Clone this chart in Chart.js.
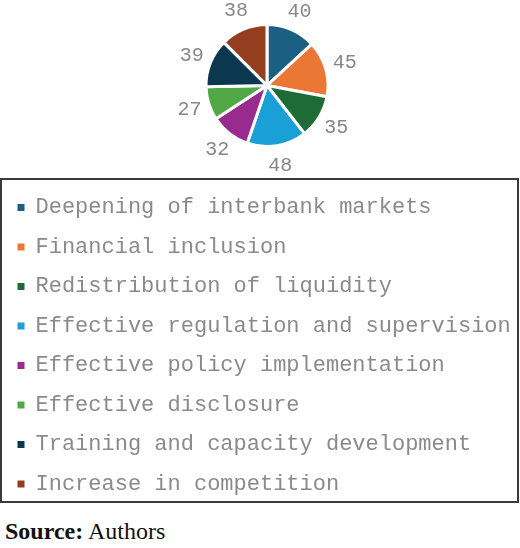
<!DOCTYPE html>
<html>
<head>
<meta charset="utf-8">
<script src="https://cdn.jsdelivr.net/npm/chart.js@4"></script>
<style>
html,body{margin:0;padding:0;background:#fff;}
#wrap{position:relative;width:520px;height:548px;overflow:hidden;}
#c{position:absolute;left:0;top:0;width:520px;height:505px;}
#src{position:absolute;left:5px;top:519px;font-family:"Liberation Serif","Times New Roman",serif;font-size:24px;line-height:24px;color:#111;white-space:nowrap;}
</style>
</head>
<body>
<div id="wrap">
  <canvas id="c" width="520" height="505"></canvas>
  <div id="src"><b>Source:</b> Authors</div>
</div>
<script>
const categories = [
  "Deepening of interbank markets",
  "Financial inclusion",
  "Redistribution of liquidity",
  "Effective regulation and supervision",
  "Effective policy implementation",
  "Effective disclosure",
  "Training and capacity development",
  "Increase in competition"
];
const values = [40, 45, 35, 48, 32, 27, 39, 38];
const colors = ["#1b5f83", "#ec7633", "#1e6b35", "#1b9fd7", "#9a2b8e", "#52a747", "#0c384f", "#933f1f"];

const shiftArea = {
  id: 'shiftArea',
  afterLayout(chart) {
    const ca = chart.chartArea;
    ca.left += 14;
    ca.width = ca.right - ca.left;
    ca.bottom -= 8;
    ca.height = ca.bottom - ca.top;
  }
};

const valueLabels = {
  id: 'valueLabels',
  afterDatasetsDraw(chart) {
    const ctx = chart.ctx;
    const meta = chart.getDatasetMeta(0);
    ctx.save();
    ctx.font = '20px "Liberation Mono", monospace';
    ctx.fillStyle = '#888888';
    ctx.textAlign = 'center';
    ctx.textBaseline = 'middle';
    meta.data.forEach((arc, i) => {
      const p = arc.getProps(['x', 'y', 'startAngle', 'endAngle', 'outerRadius'], true);
      const mid = (p.startAngle + p.endAngle) / 2;
      const r = p.outerRadius + 20;
      ctx.fillText(String(values[i]), p.x + Math.cos(mid) * r, p.y + Math.sin(mid) * r);
    });
    ctx.restore();
  }
};

const legendBorder = {
  id: 'legendBorder',
  afterDraw(chart) {
    const lg = chart.legend;
    const ctx = chart.ctx;
    ctx.save();
    ctx.strokeStyle = '#3a3a3a';
    ctx.lineWidth = 2;
    ctx.strokeRect(1, lg.top, 517, 323);
    ctx.restore();
  }
};

new Chart(document.getElementById('c'), {
  type: 'pie',
  data: {
    labels: categories,
    datasets: [{
      data: values,
      backgroundColor: colors,
      borderColor: '#ffffff',
      borderWidth: 3,
      radius: 61
    }]
  },
  options: {
    responsive: false,
    animation: false,
    layout: { padding: 0 },
    plugins: {
      tooltip: { enabled: false },
      legend: {
        display: true,
        position: 'bottom',
        align: 'start',
        maxHeight: 400,
        labels: {
          font: { family: '"Liberation Mono", monospace', size: 22 },
          color: '#8a8a8a',
          boxWidth: 7,
          boxHeight: 7,
          padding: 17.5,
          generateLabels(chart) {
            return Chart.overrides.doughnut.plugins.legend.labels.generateLabels(chart)
              .map(l => Object.assign({}, l, { lineWidth: 0 }));
          }
        }
      }
    }
  },
  plugins: [shiftArea, valueLabels, legendBorder]
});
</script>
</body>
</html>
